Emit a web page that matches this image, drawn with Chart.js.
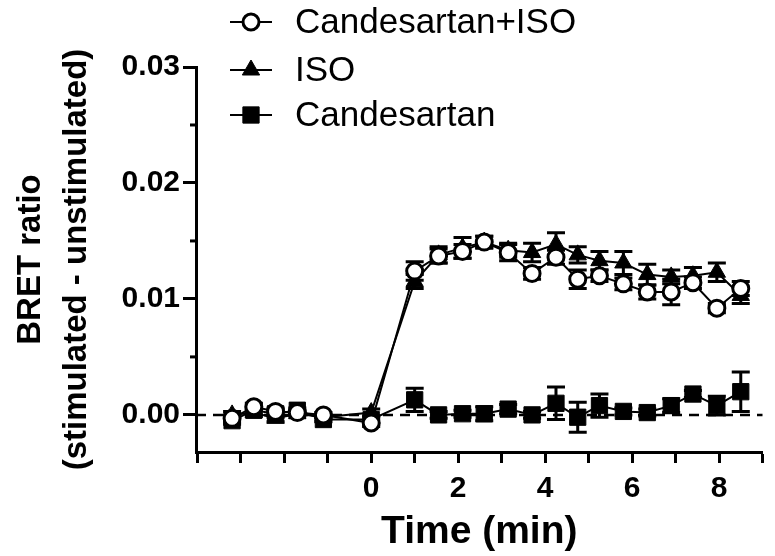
<!DOCTYPE html>
<html>
<head>
<meta charset="utf-8">
<script src="https://cdn.jsdelivr.net/npm/chart.js@4"></script>
<style>
  body { margin: 0; background: #fff; }
  #wrap { width: 775px; height: 556px; }
</style>
</head>
<body>
<div id="wrap"><canvas id="bretChart"></canvas></div>
<script>
// time points (min) and mean BRET change, with SEM
const times = [-3.2, -2.7, -2.2, -1.7, -1.1, 0, 1.0, 1.55, 2.1, 2.6, 3.15, 3.7, 4.25, 4.75, 5.25, 5.8, 6.35, 6.9, 7.4, 7.95, 8.5];

const candIso = [-0.0003, 0.0007, 0.0003, 0.0002, 0.0000, -0.0007, 0.0124, 0.0137, 0.0141, 0.0149, 0.0140, 0.0122, 0.0136, 0.0117, 0.0120, 0.0113, 0.0106, 0.0106, 0.0114, 0.0092, 0.0109];
const candIsoErr = [0.0003, 0.0003, 0.0003, 0.0002, 0.0002, 0.0003, 0.0008, 0.0006, 0.0006, 0.0005, 0.0007, 0.0005, 0.0006, 0.0008, 0.0005, 0.0005, 0.0006, 0.0011, 0.0005, 0.0004, 0.0006];

const iso = [0.0000, 0.0002, -0.0003, 0.0001, -0.0002, 0.0002, 0.0115, 0.0138, 0.0144, 0.0149, 0.0142, 0.0140, 0.0147, 0.0138, 0.0133, 0.0131, 0.0121, 0.0119, 0.0120, 0.0123, 0.0103];
const isoErr = [0.0003, 0.0003, 0.0003, 0.0002, 0.0002, 0.0003, 0.0006, 0.0007, 0.0009, 0.0005, 0.0006, 0.0008, 0.0010, 0.0007, 0.0008, 0.0010, 0.0009, 0.0006, 0.0007, 0.0008, 0.0007];

const cand = [-0.0005, 0.0004, 0.0001, 0.0004, -0.0004, -0.0004, 0.0013, 0.0000, 0.0001, 0.0001, 0.0005, 0.0000, 0.0010, -0.0002, 0.0008, 0.0003, 0.0002, 0.0008, 0.0018, 0.0008, 0.0020];
const candErr = [0.0003, 0.0003, 0.0003, 0.0002, 0.0002, 0.0003, 0.0010, 0.0003, 0.0003, 0.0006, 0.0004, 0.0003, 0.0014, 0.0013, 0.0010, 0.0003, 0.0003, 0.0006, 0.0003, 0.0008, 0.0017];

const seriesNames = ["Candesartan+ISO", "ISO", "Candesartan"];
const xTickLabels = [0, 2, 4, 6, 8];
const yTickLabels = [0.00, 0.01, 0.02, 0.03];

const FONT = "'Liberation Sans', Arial, sans-serif";

function pts(arr) {
  return times.map((t, i) => ({ x: t, y: arr[i] }));
}

function isOn(v, list) {
  return list.some(l => Math.abs(l - v) < 1e-9);
}

// error bars + dashed zero line, drawn under the markers
const errorBars = {
  id: "errorBars",
  beforeDatasetsDraw(chart) {
    const ctx = chart.ctx;
    const ys = chart.scales.y;
    const xs = chart.scales.x;
    ctx.save();
    // zero line
    ctx.strokeStyle = "#000";
    ctx.lineWidth = 2.5;
    ctx.setLineDash([10, 7]);
    ctx.beginPath();
    ctx.moveTo(xs.left, ys.getPixelForValue(0));
    ctx.lineTo(xs.right, ys.getPixelForValue(0));
    ctx.stroke();
    ctx.setLineDash([]);

    ctx.lineWidth = 3;
    chart.data.datasets.forEach((ds, di) => {
      const meta = chart.getDatasetMeta(di);
      meta.data.forEach((el, i) => {
        const v = ds.data[i].y;
        const e = ds.errors[i];
        const top = ys.getPixelForValue(v + e);
        const bot = ys.getPixelForValue(v - e);
        ctx.beginPath();
        ctx.moveTo(el.x, top);
        ctx.lineTo(el.x, bot);
        ctx.moveTo(el.x - 9, top);
        ctx.lineTo(el.x + 9, top);
        ctx.moveTo(el.x - 9, bot);
        ctx.lineTo(el.x + 9, bot);
        ctx.stroke();
      });
    });
    ctx.restore();
  },
  afterDraw(chart) {
    const ctx = chart.ctx;
    const ys = chart.scales.y;
    ctx.save();
    // short minor ticks on the y axis
    ctx.strokeStyle = "#000";
    ctx.lineWidth = 3;
    [0.005, 0.015, 0.025].forEach(v => {
      const y = ys.getPixelForValue(v);
      ctx.beginPath();
      ctx.moveTo(ys.right - 6, y);
      ctx.lineTo(ys.right, y);
      ctx.stroke();
    });

    // legend, top left
    const rows = [22, 70, 115];
    chart.data.datasets.forEach((ds, di) => {
      const y = rows[di];
      ctx.lineWidth = 2;
      ctx.beginPath();
      ctx.moveTo(230, y);
      ctx.lineTo(272, y);
      ctx.stroke();
      ctx.fillStyle = ds.pointBackgroundColor;
      ctx.strokeStyle = "#000";
      ctx.lineWidth = ds.pointBorderWidth;
      Chart.helpers.drawPoint(ctx, {
        pointStyle: ds.pointStyle,
        radius: ds.pointRadius,
        rotation: 0,
        borderWidth: ds.pointBorderWidth
      }, 251, y);
      ctx.fillStyle = "#000";
      ctx.font = "35px " + FONT;
      ctx.textBaseline = "middle";
      ctx.textAlign = "left";
      ctx.fillText(ds.label, 295, y + 1);
    });
    ctx.restore();
  }
};

const ctx = document.getElementById("bretChart").getContext("2d");

new Chart(ctx, {
  type: "line",
  data: {
    datasets: [
      {
        label: seriesNames[0],
        data: pts(candIso),
        errors: candIsoErr,
        borderColor: "#000",
        borderWidth: 2,
        pointStyle: "circle",
        pointRadius: 8,
        pointBorderWidth: 3,
        pointBackgroundColor: "#fff",
        pointBorderColor: "#000"
      },
      {
        label: seriesNames[1],
        data: pts(iso),
        errors: isoErr,
        borderColor: "#000",
        borderWidth: 2,
        pointStyle: "triangle",
        pointRadius: 10,
        pointBorderWidth: 1,
        pointBackgroundColor: "#000",
        pointBorderColor: "#000"
      },
      {
        label: seriesNames[2],
        data: pts(cand),
        errors: candErr,
        borderColor: "#000",
        borderWidth: 2,
        pointStyle: "rect",
        pointRadius: 11.5,
        pointBorderWidth: 1,
        pointBackgroundColor: "#000",
        pointBorderColor: "#000"
      }
    ]
  },
  options: {
    responsive: true,
    maintainAspectRatio: false,
    animation: false,
    layout: { padding: { top: 67, right: 3, left: 0, bottom: 0 } },
    plugins: {
      legend: { display: false },
      tooltip: { enabled: false }
    },
    elements: { line: { tension: 0 } },
    scales: {
      x: {
        type: "linear",
        min: -4.03,
        max: 9,
        afterFit(scale) { scale.height = 104; },
        border: { color: "#000", width: 3 },
        grid: { drawOnChartArea: false, tickLength: 11, tickWidth: 3, tickColor: "#000" },
        ticks: {
          stepSize: 1,
          includeBounds: false,
          autoSkip: false,
          maxRotation: 0,
          color: "#000",
          padding: 8,
          font: { family: FONT, size: 30, weight: "bold" },
          callback: v => isOn(v, xTickLabels) ? String(v) : ""
        },
        title: {
          display: true,
          text: "Time (min)",
          color: "#000",
          padding: { top: 0, bottom: 0 },
          font: { family: FONT, size: 39, weight: "bold" }
        }
      },
      y: {
        min: -0.0032,
        max: 0.03,
        afterFit(scale) { scale.width = 196; },
        border: { color: "#000", width: 3 },
        grid: {
          drawOnChartArea: false,
          tickLength: 13,
          tickWidth: 3,
          tickColor: c => isOn(c.tick.value, yTickLabels) ? "#000" : "rgba(0,0,0,0)"
        },
        ticks: {
          stepSize: 0.005,
          includeBounds: false,
          autoSkip: false,
          color: "#000",
          padding: 3,
          font: { family: FONT, size: 30, weight: "bold" },
          callback: v => isOn(v, yTickLabels) ? v.toFixed(2) : ""
        },
        title: {
          display: true,
          text: ["BRET ratio", "(stimulated - unstimulated)"],
          color: "#000",
          padding: { top: 8, bottom: 0 },
          font: { family: FONT, size: 33, weight: "bold", lineHeight: 1.4 }
        }
      }
    }
  },
  plugins: [errorBars]
});
</script>
</body>
</html>
